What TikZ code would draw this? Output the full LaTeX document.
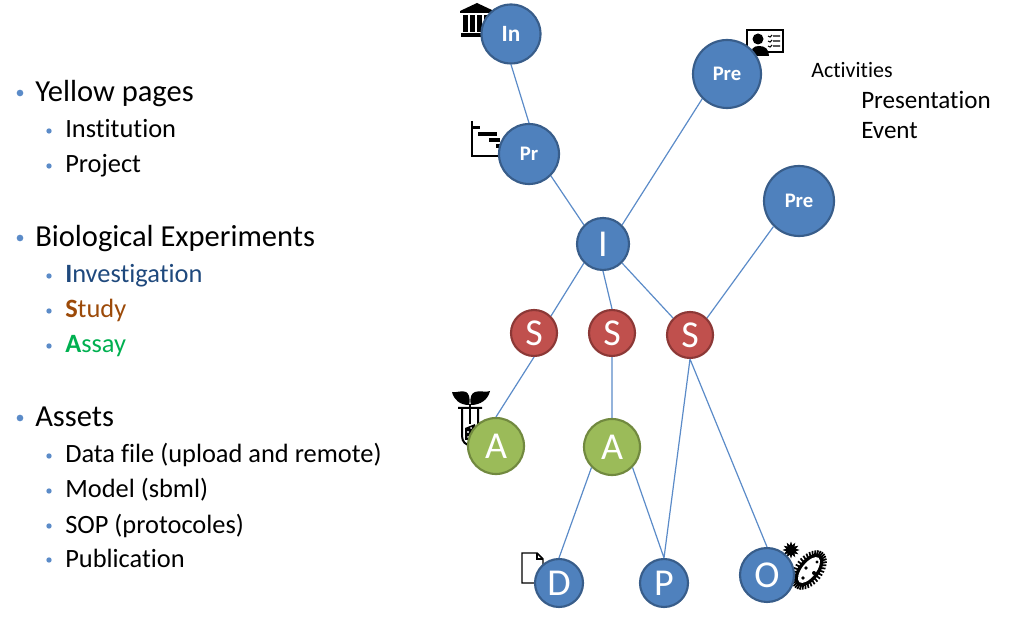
\documentclass[tikz,border=0pt]{standalone}
\usepackage{fontspec}
\setmainfont{Carlito}[Ligatures={NoCommon}]
\definecolor{nblue}{HTML}{4F81BD}
\definecolor{nblueD}{HTML}{385D8A}
\definecolor{nred}{HTML}{C0504D}
\definecolor{nredD}{HTML}{8C3836}
\definecolor{ngreen}{HTML}{9BBB59}
\definecolor{ngreenD}{HTML}{71893F}
\definecolor{linkc}{HTML}{5B8BC8}
\definecolor{invc}{HTML}{1F497D}
\definecolor{stuc}{HTML}{9C4A09}
\definecolor{assc}{HTML}{00B050}
\tikzset{
  x=0.75pt,y=-0.75pt,
  nd/.style={circle,draw=#1,line width=1.6pt,inner sep=0pt,text=white},
  bnode/.style={nd=nblueD,fill=nblue},
  rnode/.style={nd=nredD,fill=nred},
  gnode/.style={nd=ngreenD,fill=ngreen},
  rad/.style={minimum size=#1*1.5pt},
  smallb/.style={font=\bfseries\fontsize{15.5pt}{17pt}\selectfont},
  bigl/.style={font=\fontsize{28.5pt}{30pt}\selectfont},
  link/.style={draw=linkc,line width=0.9pt},
  lone/.style={anchor=base west,font=\fontsize{22.9pt}{26pt}\selectfont,text=black,inner sep=0pt},
  ltwo/.style={anchor=base west,font=\fontsize{19.8pt}{23pt}\selectfont,inner sep=0pt},
  lact/.style={anchor=base west,font=\fontsize{18.8pt}{22pt}\selectfont,inner sep=0pt},
  bone/.style={circle,fill=linkc,inner sep=0pt,minimum size=5pt},
  btwo/.style={circle,fill=linkc,inner sep=0pt,minimum size=4pt},
  ico/.style={fill=black,draw=none},
}
\begin{document}
\begin{tikzpicture}
\useasboundingbox (0,0) rectangle (1024,630);
% icons, behind the circles
% bank
\fill[ico] (477,3)--(494,11)--(460,11)--cycle;
\fill[ico] (460,11) rectangle (494,13);
\foreach \x in {463,470,477,484}{\fill[ico] (\x,15) rectangle (\x+5,32);}
\fill[ico] (461,33) rectangle (486,37);
% gantt
\draw[black,line width=1.3pt] (472,121)--(472,156)--(500,156);
\fill[ico] (473,126) rectangle (480,129);
\fill[ico] (478,132) rectangle (497,136);
\fill[ico] (489,138) rectangle (500,142);
\fill[ico] (496,144) rectangle (500,148);
% presenter
\draw[black,line width=1.2pt,fill=white] (747,30) rectangle (783,52);
\fill[ico] (758,39) circle (5.5);
\fill[ico] (751,56) .. controls (751,49) and (753,46) .. (759,46) .. controls (765,46) and (769,49) .. (769,56) -- cycle;
\foreach \y in {36,41,46}{\draw[black,line width=0.8pt] (768,\y)--(770,\y+1)--(772,\y-1) (773,\y)--(780,\y);}
% flask and leaves
\draw[black,line width=1.5pt] (458,408)--(482,408) (462,408)--(462,436) .. controls (462,448) and (478,448) .. (478,436) -- (478,408);
\fill[ico] (465,428)--(475,424)--(475,440)--(465,440)--cycle;
\fill[white] (468,432) circle (1.2) (471,428) circle (1) (468,437) circle (1);
\draw[black,line width=1.2pt] (470,424)--(470,404);
\fill[ico] (469,405) .. controls (471,397) and (468,393) .. (466,392) .. controls (462,390) and (456,393) .. (452,392) .. controls (454,400) and (460,405) .. (469,405) -- cycle;
\fill[ico] (471,405) .. controls (469,397) and (472,393) .. (475,392) .. controls (480,390) and (486,393) .. (490,391) .. controls (488,400) and (480,405) .. (471,405) -- cycle;
% document
\draw[black,line width=1.1pt,fill=white] (522,553)--(537,553)--(543,559)--(543,583)--(522,583)--cycle;
\draw[black,line width=0.8pt] (537,553)--(537,559)--(543,559);
% microbe
\begin{scope}[rotate around={52:(809,570)}]
\fill[ico] (809,570) ellipse (19 and 10.5);
\fill[white] (809,570) ellipse (15.5 and 7);
\foreach \a in {0,10,...,350}{
  \draw[black,line width=1.3pt] ({809+18*cos(\a)},{570+9.5*sin(\a)})--({809+22.5*cos(\a)},{570+14*sin(\a)});}
\end{scope}
\fill[ico] (806,568) circle (1.8) (814,573) circle (2) (803,578) circle (1.8) (817,562) circle (1.6);
\foreach \a in {0,30,...,330}{\fill[ico] ({791+3*cos(\a+90)},{550+3*sin(\a+90)})--({791+8.5*cos(\a)},{550+8.5*sin(\a)})--({791+3*cos(\a-90)},{550+3*sin(\a-90)})--cycle;}
% nodes
\node[bnode,rad=29.5,font=\bfseries\fontsize{17.5pt}{19pt}\selectfont] (in) at (511,34) {In};
\node[bnode,rad=30,smallb] (pr) at (529,154) {Pr};
\node[bnode,rad=34,smallb] (pre1) at (727,74) {Pre};
\node[bnode,rad=35,smallb] (pre2) at (799,201) {Pre};
\node[bnode,rad=26,bigl] (i) at (603,244) {I};
\node[rnode,rad=23,bigl] (s1) at (534,333) {S};
\node[rnode,rad=23,bigl] (s2) at (612,333) {S};
\node[rnode,rad=23,bigl] (s3) at (690,335) {S};
\node[gnode,rad=28,bigl] (a1) at (496,446) {A};
\node[gnode,rad=28,bigl] (a2) at (612,447) {A};
\node[bnode,rad=24,bigl] (d) at (559,583) {D};
\node[bnode,rad=24,bigl] (p) at (664,583) {P};
\node[bnode,rad=27,bigl] (o) at (767,575) {O};
% links between connection sites
\path[link]
  (in.south)--(pr.north)
  (pr.-45)--(i.135)
  (pre1.-135)--(i.45)
  (pre2.-135)--(s3.45)
  (i.-135)--(s1.45)
  (i.south)--(s2.north)
  (i.-45)--(s3.135)
  (s1.south)--(a1.north)
  (s2.south)--(a2.north)
  (s3.south)--(p.north)
  (s3.south)--(o.north)
  (a2.-135)--(d.north)
  (a2.-45)--(p.north);
% left list
\node[bone] (b1) at (20,93) {}; \node[lone] (t1) at (35,102) {Yellow pages};
\node[btwo] (b2) at (49,131) {}; \node[ltwo] (t2) at (65,138) {Institution};
\node[btwo] (b3) at (49,166) {}; \node[ltwo] (t3) at (65,173) {Project};
\node[bone] (b4) at (20,238) {}; \node[lone] (t4) at (35,247) {Biological Experiments};
\node[btwo] (b5) at (49,276) {}; \node[ltwo,text=invc] (t5) at (65,283) {\textbf{I}nvestigation};
\node[btwo] (b6) at (49,311) {}; \node[ltwo,text=stuc] (t6) at (65,318) {\textbf{S}tudy};
\node[btwo] (b7) at (49,346) {}; \node[ltwo,text=assc] (t7) at (65,353) {\textbf{A}ssay};
\node[bone] (b8) at (20,418) {}; \node[lone] (t8) at (35,427) {Assets};
\node[btwo] (b9) at (49,456) {}; \node[ltwo] (t9) at (65,463) {Data file (upload and remote)};
\node[btwo] (b10) at (49,491) {}; \node[ltwo] (t10) at (65,498) {Model (sbml)};
\node[btwo] (b11) at (49,526) {}; \node[ltwo] (t11) at (65,533) {SOP (protocoles)};
\node[btwo] (b12) at (49,560) {}; \node[ltwo] (t12) at (65,567) {Publication};
% activities
\node[anchor=base west,inner sep=0pt,font=\fontsize{16.5pt}{19pt}\selectfont] (act) at (811,78) {Activities};
\node[lact] (act1) at (861,109) {Presentation};
\node[lact] (act2) at (861,139) {Event};
\end{tikzpicture}
\end{document}
